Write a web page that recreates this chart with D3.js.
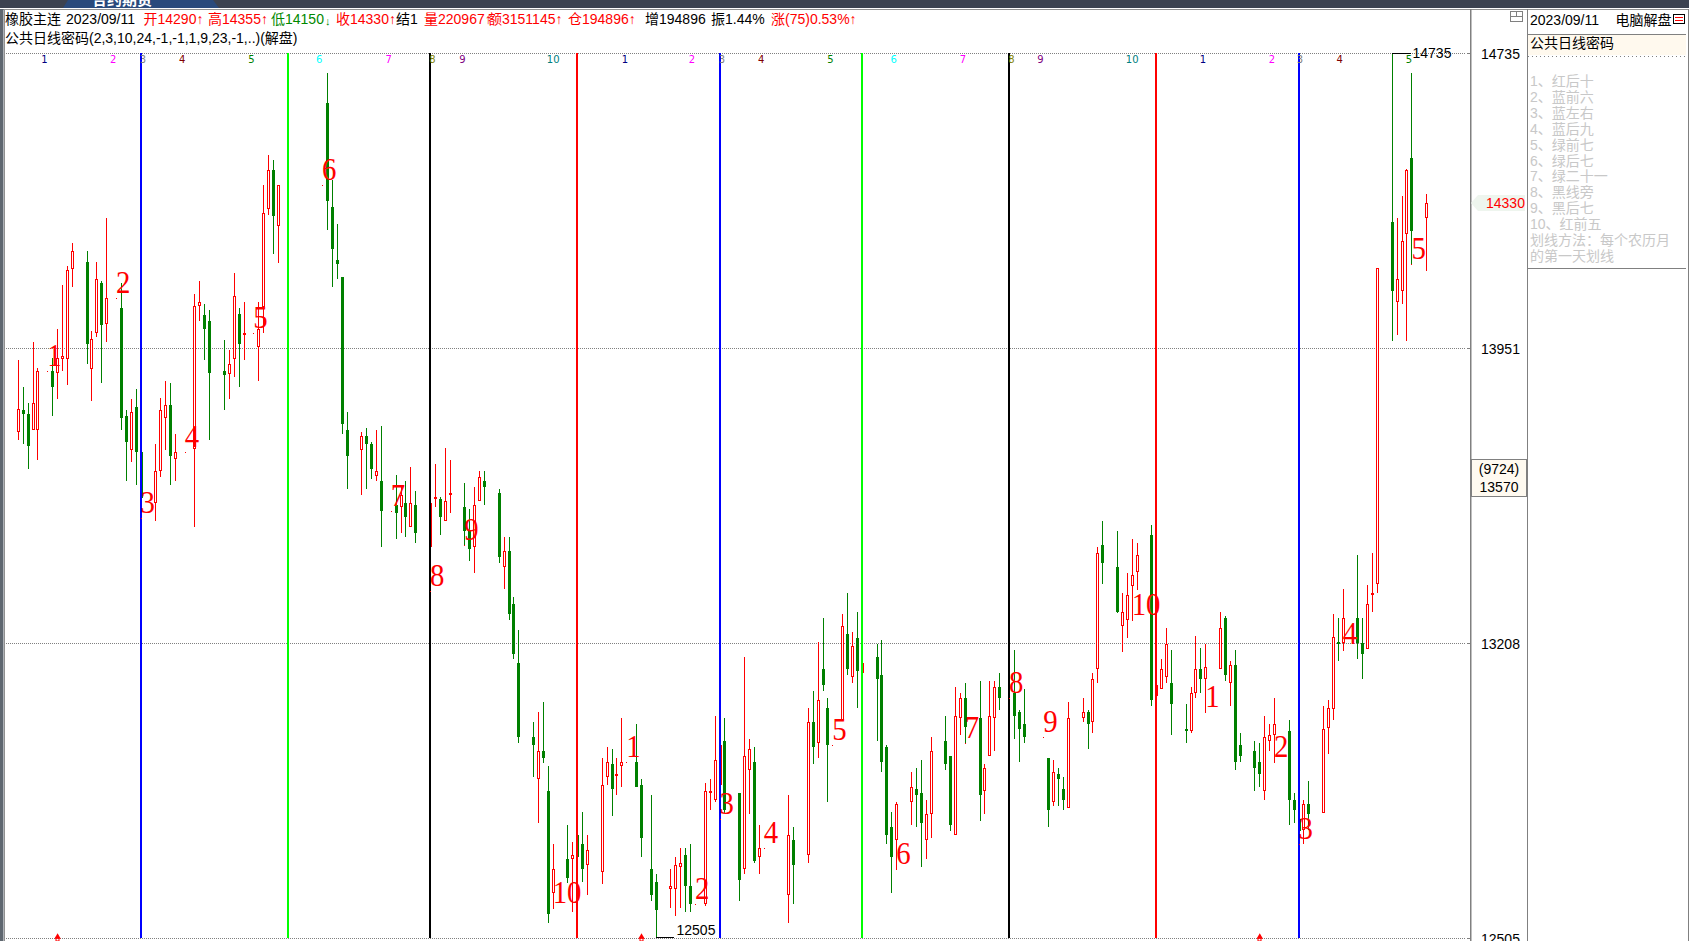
<!DOCTYPE html>
<html><head><meta charset="utf-8">
<script src="https://cdn.jsdelivr.net/npm/d3@7/dist/d3.min.js"></script>
<style>
html,body{margin:0;padding:0;background:#fff;overflow:hidden}
svg{display:block}
text{font-family:"Liberation Sans","Noto Sans CJK SC",sans-serif;font-size:14px}
</style></head><body>
<script>
// Calendar days counted from the first visible session (2022-11-28)
const days = [
0,1,2,3,4, 7,8,9,10,11, 14,15,16,17,18, 21,22,23,24,25, 28,29,30,31,32, 36,37,38,39, 42,43,44,45,46, 49,50,51,52,53,
63,64,65,66,67, 70,71,72,73,74, 77,78,79,80,81, 84,85,86,87,88, 91,92,93,94,95, 98,99,100,101,102, 105,106,107,108,109,
112,113,114,115,116, 119,120,121,122,123, 126,127,129,130, 133,134,135,136,137, 140,141,142,143,144, 147,148,149,150,151,
157,158, 161,162,163,164,165, 168,169,170,171,172, 175,176,177,178,179, 182,183,184,185,186, 189,190,191,192,193,
196,197,198,199,200, 203,204,205, 210,211,212,213,214, 217,218,219,220,221, 224,225,226,227,228, 231,232,233,234,235,
238,239,240,241,242, 245,246,247,248,249, 252,253,254,255,256, 259,260,261,262,263, 266,267,268,269,270, 273,274,275,276,277,
280,281,282,283,284, 287];
const opens = [
13735,13791,13781,13741,13741, 13892,13887,13923,13923,14157, 14176,13897,13989,14120,14013, 14054,13776,13689,13799,13684, 13556,13636,13771,13804,13666, 13692,14059,14036,14020, 13892,13884,13923,14039,13984, 13953,14057,14315,14419,14270,
14599,14320,14181,14136,13741, 13689,13725,13705,13623,13611, 13551,13546,13556,13495,13551, 13446,13566,13566,13510,13578, 13546,13488,13446,13561,13611, 13581,13396,13435,13304,13159, 12980,12880,12947,12851,12610,
12690,12690,12746,12725,12676, 12659,12884,12916,12889,12911, 12920,12865,12666,12636, 12619,12619,12671,12699,12626, 12584,12848,12829,12865,12971, 12846,12666,12901,12920,12695,
12605,12734, 12699,13016,12966,13145,13050, 13021,13230,13125,13220,13135, 13174,13130,12956,12765,12734, 12824,12855,12846,12734,12796, 12971,12935,12746,13026,13074,
13026,12851,12935,13026,13101, 13086,13040,13012, 12930,12824,12892,12855,12810, 13026,13040,13016,13145,13451, 13396,13250,13265,13349,13383, 13476,13079,13096,13125,13111,
13000,12995,13086,13145,13121, 13145,13270,13111,13154,12961, 12947,12920,12851,12971,12985, 12995,12829,12784,12758,12820, 12798,13002,13047,13211,13208, 13270,13208,13194,13326,13354,
14281,14070,14099,14249,14451, 14290];
const highs = [
13920,13851,13809,13966,13900, 13925,14000,14115,14165,14225, 14204,13995,14176,14125,14291, 14120,13791,13820,13846,13689, 13705,13823,13866,13861,13730, 14091,14125,14065,14049, 13971,13946,14147,14054,14070, 14070,14379,14459,14445,14379,
14680,14392,14276,14136,13786, 13735,13746,13709,13741,13751, 13626,13596,13611,13646,13586, 13556,13654,13571,13694,13664, 13606,13541,13596,13636,13636, 13591,13471,13471,13321,13240, 13016,13040,13064,12911,12725,
12770,12730,12746,12801,12746, 12930,12956,12951,12930,13026, 13012,12880,12841,12655, 12666,12695,12716,12716,12725, 12870,12880,13030,12985,13026, 12846,13174,12975,12956,12770,
12841,12765, 13050,13091,13211,13270,13074, 13280,13331,13235,13284,13167, 13206,13216,12961,12801,12824, 12896,12906,12925,12829,12980, 13030,12935,13101,13086,13111,
13116,12916,13116,13116,13135, 13191,13045,13096, 12930,12925,12906,12884,13064, 13074,13045,13135,13445,13510, 13485,13331,13381,13466,13456, 13500,13106,13169,13245,13191,
13059,13101,13225,13196,13206, 13284,13275,13164,13191,12990, 12971,12966,13030,13012,13074, 13021,12846,12784,12829,12874, 13055,13069,13280,13270,13341, 13426,13270,13351,13431,14160,
14735,14291,14350,14421,14680, 14355];
const lows = [
13715,13705,13641,13741,13664, 13776,13820,13892,13856,14110, 13910,13814,13979,13861,13966, 13741,13611,13659,13601,13568, 13510,13621,13689,13601,13611, 13495,14020,13920,13715, 13791,13820,13877,13851,13920, 13866,13989,14299,14197,14173,
14260,14110,14131,13730,13591, 13576,13591,13616,13611,13446, 13466,13480,13471,13495,13455, 13446,13546,13475,13510,13531, 13448,13411,13381,13561,13551, 13406,13341,13265,13169,12966, 12884,12774,12918,12539,12572,
12633,12565,12695,12636,12605, 12631,12865,12791,12841,12860, 12860,12695,12591,12505, 12574,12556,12574,12565,12565, 12579,12805,12824,12865,12798, 12591,12655,12796,12680,12655,
12539,12584, 12680,12916,12930,13091,12824, 13021,13130,13111,13050,13135, 12971,12896,12725,12610,12664, 12770,12765,12671,12690,12739, 12901,12756,12746,12985,12963,
12779,12796,12935,12947,13045, 12975,12920,12966, 12765,12815,12815,12805,12810, 13016,12951,12990,13111,13354, 13282,13186,13220,13262,13339, 13055,13079,13096,13111,12985,
12966,12990,13074,13086,13038, 13145,13116,13055,12901,12920, 12851,12860,12829,12947,12918, 12770,12774,12756,12725,12758, 12798,12939,13021,13164,13189, 13169,13121,13194,13284,13331,
13969,13984,14065,13969,14168, 14150];
const closes = [
13794,13781,13699,13809,13892, 13851,13925,13931,14155,14204, 13961,13974,14131,14010,14080, 13771,13709,13786,13684,13568, 13636,13791,13804,13674,13684, 14059,14070,14000,13887, 13882,13910,14086,13961,13989, 14000,14305,14419,14297,14379,
14336,14209,14170,13756,13674, 13725,13705,13641,13636,13536, 13531,13576,13521,13556,13480, 13556,13571,13521,13561,13581, 13485,13440,13551,13621,13596, 13421,13435,13280,13181,12980, 12961,12947,12930,12560,12666,
12645,12699,12695,12666,12711, 12865,12920,12855,12892,12920, 12860,12739,12605,12570, 12626,12676,12680,12626,12584, 12851,12851,12925,12961,12805, 12640,12935,12951,12685,12716,
12746,12676, 13016,12956,13069,13106,12961, 13250,13145,13201,13140,13159, 13121,12920,12746,12695,12820, 12860,12841,12774,12796,12947, 12916,12770,13030,13074,13004,
12841,12906,13030,13101,13074, 13030,13000,12980, 12805,12896,12880,12829,13026, 13040,13012,13121,13431,13406, 13284,13284,13326,13376,13426, 13069,13106,13145,13206,13059,
12995,13086,13145,13121,13150, 13245,13130,13154,12920,12935, 12906,12892,12980,12985,13012, 12829,12805,12756,12820,12796, 13000,13050,13223,13208,13270, 13208,13181,13304,13331,14160,
14099,14131,14231,14419,14257, 14330];

const priceTicks = [12505,13208,13951,14735];
// Lunar month first days: day offset + colour
const monthDays = [25,55,84,114,143,172,202,232,261];
const monthColors = ["#0000ff","#00ff00","#000000","#ff0000","#0000ff","#00ff00","#000000","#ff0000","#0000ff"];
// Big red annotations
const markText = ["1","2","3","4","5","6","7","8","9","10","1","2","3","4","5","6","7","8","9","10","1","2","3","4","5"];
const markDays = [6,20,25,34,48,62,76,84,91,109,124,138,143,152,166,179,193,202,209,227,242,256,261,270,284];
const markPrices = [13892,14080,13518,13684,13989,14379,13536,13336,13450,12574,12920,12584,12784,12716,12961,12666,12966,13074,12980,13265,13040,12920,12725,13194,14170];
// Small coloured digits along the top
const topText = ["1","2","3","4","5","6","7","8","9","10","1","2","3","4","5","6","7","8","9","10","1","2","3","4","5"];
const topDays = [5.3,19.35,25.4,33.4,47.5,61.3,75.5,84.4,90.5,109,123.6,137.3,143.4,151.4,165.5,178.4,192.5,202.4,208.3,227,241.4,255.5,261.2,269.3,283.4];
const digitColors = {"1":"#000080","2":"#ff00ff","3":"#808080","4":"#800000","5":"#008000","6":"#00ffff","7":"#ff00ff","8":"#808000","9":"#800080","10":"#008080"};
const arrowDays = [8,127,253];
const header1 = [
 [5,"橡胶主连","#000"],[66,"2023/09/11","#000"],[143.5,"开14290↑","#f00"],[208,"高14355↑","#f00"],[271,"低14150","#080"],
 [336,"收14330↑","#f00"],[396,"结1","#000"],[424,"量220967↑","#f00"],[488,"额3151145↑","#f00"],[568,"仓194896↑","#f00"],
 [645,"增194896","#000"],[711,"振1.44%","#000"],[771,"涨(75)0.53%↑","#f00"]];
const title2 = "公共日线密码(2,3,10,24,-1,-1,1,9,23,-1,..)(解盘)";
const notes = ["1、红后十","2、蓝前六","3、蓝左右","4、蓝后九","5、绿前七","6、绿后七","7、绿二十一","8、黑线旁","9、黑后七","10、红前五","划线方法：每个农历月","的第一天划线"];

const W=1689,H=941;
const svg=d3.select("body").append("svg").attr("width",W).attr("height",H);
const x=d3.scaleLinear().domain([0,287]).range([18.33,1426.6]);
const y=d3.scaleLog().domain([12505,14735]).range([938,53]);
const px=d=>Math.round(x(d)-0.5);
const py=p=>Math.round(y(p));
const RED="#ff0000",GREEN="#008000",GRID="#808080";

// window chrome
svg.append("rect").attr("width",W).attr("height",8).attr("fill","#3c4250");
svg.append("path").attr("d","M63 8 L68 0 L213 0 L219 8 Z").attr("fill","#2a4a7c");
const clip=svg.append("clipPath").attr("id","tabclip");
clip.append("rect").attr("width",W).attr("height",8);
svg.append("text").attr("x",92).attr("y",5).attr("fill","#fff").attr("clip-path","url(#tabclip)").attr("font-weight","bold").style("font-size","15px").text("合约期货");
svg.append("rect").attr("x",0).attr("y",8).attr("width",W).attr("height",1).attr("fill","#fff");
svg.append("rect").attr("x",0).attr("y",9).attr("width",W).attr("height",1).attr("fill","#909090");
svg.append("rect").attr("x",0).attr("y",9).attr("width",3.5).attr("height",H).attr("fill","#5f6770");
svg.append("rect").attr("x",4).attr("y",9).attr("width",1).attr("height",H).attr("fill","#909090");
svg.append("rect").attr("x",1688).attr("y",9).attr("width",1).attr("height",H).attr("fill","#808080");

// grid + axes
const gridG=svg.append("g").attr("transform","translate(5.5,0)")
 .call(d3.axisRight(y).tickValues(priceTicks).tickSize(1460).tickFormat(""));
gridG.select(".domain").remove();
gridG.selectAll("line").attr("stroke",GRID).attr("stroke-dasharray","1,1").attr("shape-rendering","crispEdges");
const axisG=svg.append("g").attr("transform","translate(1471,0)")
 .call(d3.axisRight(y).tickValues(priceTicks).tickSize(0).tickPadding(10).tickFormat(d3.format("d")));
axisG.select(".domain").remove();
axisG.selectAll("text").attr("fill","#000").attr("dy","0.38em").style("font-size","14px").style("font-family","'Liberation Sans'");
const tickG=svg.append("g").attr("transform","translate(1471,0)")
 .call(d3.axisLeft(y).tickValues(priceTicks).tickSize(4).tickFormat(""));
tickG.select(".domain").remove();
tickG.selectAll("line").attr("stroke",GRID).attr("shape-rendering","crispEdges");

// candles
const idx=d3.range(days.length);
const cg=svg.append("g").attr("shape-rendering","crispEdges");
cg.selectAll(".wick").data(idx).join("rect").attr("class","wick")
 .attr("x",i=>px(days[i])).attr("width",1)
 .attr("y",i=>py(highs[i])).attr("height",i=>Math.max(1,py(lows[i])-py(highs[i])))
 .attr("fill",i=>closes[i]>=opens[i]?RED:GREEN);
cg.selectAll(".body").data(idx).join("rect").attr("class","body")
 .each(function(i){
   const up=closes[i]>=opens[i];
   const t=py(Math.max(opens[i],closes[i])), b=py(Math.min(opens[i],closes[i]));
   const s=d3.select(this);
   if(up && b-t>=2){
     s.attr("x",px(days[i])-0.5).attr("y",t+0.5).attr("width",2).attr("height",b-t-1).attr("fill","#fff").attr("stroke",RED).attr("stroke-width",1);
   }else{
     s.attr("x",px(days[i])-1).attr("y",t).attr("width",3).attr("height",Math.max(2,b-t)).attr("fill",up?RED:GREEN);
   }
 });

// lunar month lines
svg.append("g").attr("shape-rendering","crispEdges").selectAll("rect").data(monthDays).join("rect")
 .attr("x",d=>Math.floor(x(d))-1).attr("y",y(14735)).attr("width",2).attr("height",y(12505)-y(14735))
 .attr("fill",(d,i)=>monthColors[i]);

// top digits
svg.append("g").selectAll("text").data(topText).join("text")
 .attr("x",(d,i)=>x(topDays[i])).attr("y",63).attr("text-anchor","middle")
 .attr("fill",d=>digitColors[d]).style("font-size","10px").style("font-family","'DejaVu Sans'").text(d=>d);

// hi / lo markers
const hiI=highs.indexOf(d3.max(highs)), loI=lows.indexOf(d3.min(lows));
svg.append("rect").attr("x",px(days[hiI])).attr("y",py(highs[hiI])).attr("width",19).attr("height",1).attr("fill","#000");
svg.append("text").attr("x",1412.5).attr("y",py(highs[hiI])+5).attr("fill","#000").text(highs[hiI]);
svg.append("rect").attr("x",px(days[loI])).attr("y",py(lows[loI])-1).attr("width",18).attr("height",1).attr("fill","#000");
svg.append("text").attr("x",676.5).attr("y",935).attr("fill","#000").text(lows[loI]);

// big red marks
const mg=svg.append("g");
mg.selectAll("rect").data(markDays).join("rect").attr("x",d=>px(d)).attr("y",(d,i)=>py(markPrices[i])).attr("width",1).attr("height",1).attr("fill",RED);
mg.selectAll("text").data(markText).join("text")
 .attr("transform",(d,i)=>`translate(${x(markDays[i])-0.5},${y(markPrices[i])-5}) scale(0.9,1)`)
 .attr("fill",RED).style("font-size","32px").style("font-family","'Liberation Serif'").text(d=>d);

// bottom arrows
svg.append("g").selectAll("path").data(arrowDays).join("path")
 .attr("transform",d=>`translate(${x(d)},937)`)
 .attr("d",d3.symbol().type(d3.symbolTriangle).size(18))
 .attr("fill",RED);
svg.append("g").selectAll("rect").data(arrowDays).join("rect")
 .attr("x",d=>px(d)-1).attr("y",938).attr("width",3).attr("height",3).attr("fill","none").attr("stroke",RED).attr("stroke-width",1);

// header
svg.append("g").selectAll("text").data(header1).join("text")
 .attr("x",d=>d[0]).attr("y",24).attr("fill",d=>d[2]).text(d=>d[1]);
svg.append("text").attr("x",325).attr("y",25).attr("fill","#080").style("font-size","11px").text("↓");
svg.append("text").attr("x",5).attr("y",43).attr("fill","#000").text(title2);

// right price box etc
svg.append("rect").attr("x",1470).attr("y",9).attr("width",1.5).attr("height",H).attr("fill","#808080");
svg.append("rect").attr("x",1527).attr("y",9).attr("width",1).attr("height",H).attr("fill","#808080");
svg.append("path").attr("d",`M1471 ${py(closes[closes.length-1])} L1478 195 L1525 195 L1525 211 L1478 211 Z`).attr("fill","#eef5ee");
svg.append("text").attr("x",1486).attr("y",208).attr("fill",RED).text(closes[closes.length-1]);
svg.append("rect").attr("x",1471.5).attr("y",459.5).attr("width",55).attr("height",37).attr("fill","#fffaf0").attr("stroke","#808080");
svg.append("text").attr("x",1499).attr("y",474).attr("text-anchor","middle").attr("fill","#000").text("(9724)");
svg.append("text").attr("x",1499).attr("y",492).attr("text-anchor","middle").attr("fill","#000").text("13570");

// window-split icon
svg.append("rect").attr("x",1510.5).attr("y",11.5).attr("width",12).attr("height",10).attr("fill","none").attr("stroke","#808080");
svg.append("path").attr("d","M1510 16.5H1523M1516.5 12V16.5").attr("stroke","#808080").attr("fill","none");

// right panel
svg.append("text").attr("x",1530).attr("y",25).attr("fill","#000").text("2023/09/11");
svg.append("text").attr("x",1615.5).attr("y",25).attr("fill","#000").text("电脑解盘");
svg.append("rect").attr("x",1673.5).attr("y",14.5).attr("width",11).attr("height",9).attr("fill","#fff").attr("stroke","#000");
svg.append("path").attr("d","M1675 17.5H1683M1675 20.5H1683").attr("stroke","#f00").attr("fill","none");
svg.append("rect").attr("x",1528).attr("y",34).attr("width",158).attr("height",1).attr("fill","#808080");
svg.append("rect").attr("x",1528).attr("y",35).attr("width",158).attr("height",20).attr("fill","#fff9ee");
svg.append("text").attr("x",1530).attr("y",47.5).attr("fill","#000").text("公共日线密码");
svg.append("line").attr("x1",1528).attr("x2",1686).attr("y1",56.5).attr("y2",56.5).attr("stroke","#808080").attr("stroke-dasharray","1,3");
svg.append("g").selectAll("text").data(notes).join("text")
 .attr("x",1530).attr("y",(d,i)=>85.7+i*15.96).attr("fill","#c8c8c8").text(d=>d);
svg.append("rect").attr("x",1528).attr("y",268).attr("width",158).attr("height",1).attr("fill","#808080");
</script>
</body></html>
